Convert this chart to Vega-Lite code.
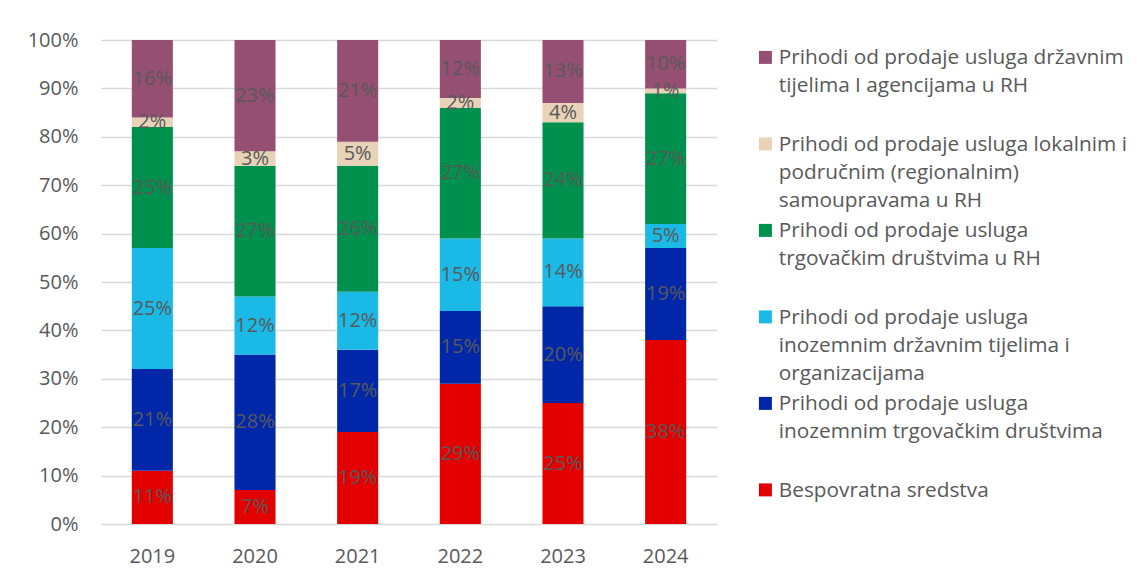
{
  "$schema": "https://vega.github.io/schema/vega-lite/v6.json",
  "width": 616,
  "height": 484,
  "autosize": {"type": "none"},
  "padding": {"left": 101, "top": 40, "right": 420, "bottom": 54},
  "background": "white",
  "config": {"view": {"stroke": null}, "font": "Open Sans"},
  "data": {"values": [
    {"year": "2019", "category": "Bespovratna sredstva", "rank": 1, "value": 0.11},
    {"year": "2019", "category": "Prihodi od prodaje usluga inozemnim trgovačkim društvima", "rank": 2, "value": 0.21},
    {"year": "2019", "category": "Prihodi od prodaje usluga inozemnim državnim tijelima i organizacijama", "rank": 3, "value": 0.25},
    {"year": "2019", "category": "Prihodi od prodaje usluga trgovačkim društvima u RH", "rank": 4, "value": 0.25},
    {"year": "2019", "category": "Prihodi od prodaje usluga lokalnim i područnim (regionalnim) samoupravama u RH", "rank": 5, "value": 0.02},
    {"year": "2019", "category": "Prihodi od prodaje usluga državnim tijelima I agencijama u RH", "rank": 6, "value": 0.16},
    {"year": "2020", "category": "Bespovratna sredstva", "rank": 1, "value": 0.07},
    {"year": "2020", "category": "Prihodi od prodaje usluga inozemnim trgovačkim društvima", "rank": 2, "value": 0.28},
    {"year": "2020", "category": "Prihodi od prodaje usluga inozemnim državnim tijelima i organizacijama", "rank": 3, "value": 0.12},
    {"year": "2020", "category": "Prihodi od prodaje usluga trgovačkim društvima u RH", "rank": 4, "value": 0.27},
    {"year": "2020", "category": "Prihodi od prodaje usluga lokalnim i područnim (regionalnim) samoupravama u RH", "rank": 5, "value": 0.03},
    {"year": "2020", "category": "Prihodi od prodaje usluga državnim tijelima I agencijama u RH", "rank": 6, "value": 0.23},
    {"year": "2021", "category": "Bespovratna sredstva", "rank": 1, "value": 0.19},
    {"year": "2021", "category": "Prihodi od prodaje usluga inozemnim trgovačkim društvima", "rank": 2, "value": 0.17},
    {"year": "2021", "category": "Prihodi od prodaje usluga inozemnim državnim tijelima i organizacijama", "rank": 3, "value": 0.12},
    {"year": "2021", "category": "Prihodi od prodaje usluga trgovačkim društvima u RH", "rank": 4, "value": 0.26},
    {"year": "2021", "category": "Prihodi od prodaje usluga lokalnim i područnim (regionalnim) samoupravama u RH", "rank": 5, "value": 0.05},
    {"year": "2021", "category": "Prihodi od prodaje usluga državnim tijelima I agencijama u RH", "rank": 6, "value": 0.21},
    {"year": "2022", "category": "Bespovratna sredstva", "rank": 1, "value": 0.29},
    {"year": "2022", "category": "Prihodi od prodaje usluga inozemnim trgovačkim društvima", "rank": 2, "value": 0.15},
    {"year": "2022", "category": "Prihodi od prodaje usluga inozemnim državnim tijelima i organizacijama", "rank": 3, "value": 0.15},
    {"year": "2022", "category": "Prihodi od prodaje usluga trgovačkim društvima u RH", "rank": 4, "value": 0.27},
    {"year": "2022", "category": "Prihodi od prodaje usluga lokalnim i područnim (regionalnim) samoupravama u RH", "rank": 5, "value": 0.02},
    {"year": "2022", "category": "Prihodi od prodaje usluga državnim tijelima I agencijama u RH", "rank": 6, "value": 0.12},
    {"year": "2023", "category": "Bespovratna sredstva", "rank": 1, "value": 0.25},
    {"year": "2023", "category": "Prihodi od prodaje usluga inozemnim trgovačkim društvima", "rank": 2, "value": 0.20},
    {"year": "2023", "category": "Prihodi od prodaje usluga inozemnim državnim tijelima i organizacijama", "rank": 3, "value": 0.14},
    {"year": "2023", "category": "Prihodi od prodaje usluga trgovačkim društvima u RH", "rank": 4, "value": 0.24},
    {"year": "2023", "category": "Prihodi od prodaje usluga lokalnim i područnim (regionalnim) samoupravama u RH", "rank": 5, "value": 0.04},
    {"year": "2023", "category": "Prihodi od prodaje usluga državnim tijelima I agencijama u RH", "rank": 6, "value": 0.13},
    {"year": "2024", "category": "Bespovratna sredstva", "rank": 1, "value": 0.38},
    {"year": "2024", "category": "Prihodi od prodaje usluga inozemnim trgovačkim društvima", "rank": 2, "value": 0.19},
    {"year": "2024", "category": "Prihodi od prodaje usluga inozemnim državnim tijelima i organizacijama", "rank": 3, "value": 0.05},
    {"year": "2024", "category": "Prihodi od prodaje usluga trgovačkim društvima u RH", "rank": 4, "value": 0.27},
    {"year": "2024", "category": "Prihodi od prodaje usluga lokalnim i područnim (regionalnim) samoupravama u RH", "rank": 5, "value": 0.01},
    {"year": "2024", "category": "Prihodi od prodaje usluga državnim tijelima I agencijama u RH", "rank": 6, "value": 0.10}
  ]},
  "encoding": {
    "x": {
      "field": "year", "type": "ordinal",
      "scale": {"paddingInner": 0.6, "paddingOuter": 0.3},
      "axis": {"title": null, "labelAngle": 0, "domain": false, "ticks": false, "labelPadding": 22, "labelFontSize": 20, "labelColor": "#595959", "labelFont": "Open Sans"}
    }
  },
  "layer": [
    {
      "mark": {"type": "bar"},
      "encoding": {
        "y": {
          "field": "value", "type": "quantitative", "stack": "zero",
          "scale": {"domain": [0, 1], "nice": false},
          "axis": {"title": null, "format": ".0%", "values": [0, 0.1, 0.2, 0.3, 0.4, 0.5, 0.6, 0.7, 0.8, 0.9, 1], "domain": false, "ticks": false, "labelPadding": 23, "labelFontSize": 20, "labelColor": "#595959", "labelFont": "Open Sans", "gridColor": "#D9D9D9", "gridWidth": 1.3}
        },
        "order": {"field": "rank", "type": "quantitative"},
        "color": {
          "field": "category", "type": "nominal",
          "scale": {
            "domain": [
              "Prihodi od prodaje usluga državnim tijelima I agencijama u RH",
              "Prihodi od prodaje usluga lokalnim i područnim (regionalnim) samoupravama u RH",
              "Prihodi od prodaje usluga trgovačkim društvima u RH",
              "Prihodi od prodaje usluga inozemnim državnim tijelima i organizacijama",
              "Prihodi od prodaje usluga inozemnim trgovačkim društvima",
              "Bespovratna sredstva"
            ],
            "range": ["#954F72", "#E8D2B8", "#00904E", "#1BB9E6", "#0027A8", "#E30000"]
          },
          "legend": {
            "title": null,
            "orient": "none",
            "legendX": 654,
            "legendY": 7,
            "padding": 0,
            "symbolType": "square",
            "symbolSize": 169,
            "symbolStrokeWidth": 0,
            "labelFont": "Open Sans",
            "labelFontSize": 20.8,
            "labelColor": "#595959",
            "labelOffset": 3,
            "labelLimit": 400,
            "labelBaseline": "top",
            "gridAlign": "all",
            "rowPadding": 8.5,
            "encode": {"labels": {"update": {"lineHeight": {"value": 28}, "dy": {"value": -9}}}},
            "labelExpr": "datum.label == 'Prihodi od prodaje usluga državnim tijelima I agencijama u RH' ? ['Prihodi od prodaje usluga državnim', 'tijelima I agencijama u RH'] : datum.label == 'Prihodi od prodaje usluga lokalnim i područnim (regionalnim) samoupravama u RH' ? ['Prihodi od prodaje usluga lokalnim i', 'područnim (regionalnim)', 'samoupravama u RH'] : datum.label == 'Prihodi od prodaje usluga trgovačkim društvima u RH' ? ['Prihodi od prodaje usluga', 'trgovačkim društvima u RH'] : datum.label == 'Prihodi od prodaje usluga inozemnim državnim tijelima i organizacijama' ? ['Prihodi od prodaje usluga', 'inozemnim državnim tijelima i', 'organizacijama'] : datum.label == 'Prihodi od prodaje usluga inozemnim trgovačkim društvima' ? ['Prihodi od prodaje usluga', 'inozemnim trgovačkim društvima'] : datum.label"
          }
        }
      }
    },
    {
      "mark": {"type": "text", "fontSize": 20, "font": "Open Sans", "color": "#595959", "baseline": "middle"},
      "encoding": {
        "y": {"field": "value", "type": "quantitative", "stack": "zero", "bandPosition": 0.5},
        "detail": {"field": "category"},
        "order": {"field": "rank", "type": "quantitative"},
        "text": {"field": "value", "type": "quantitative", "format": ".0%"}
      }
    }
  ]
}
